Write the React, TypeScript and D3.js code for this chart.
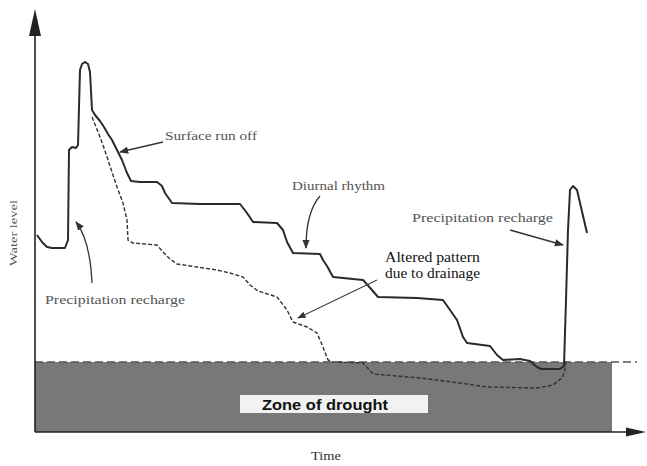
import React from 'react';
import * as d3 from 'd3';

const width = 647;
const height = 466;

// natural water level (solid line)
const levelTime = [0.4, 1.4, 2.4, 3.4, 6.0, 6.6, 6.8, 7.4, 8.2, 8.6, 9.0, 9.4, 10.0, 10.6, 11.0, 11.4, 12.0, 13.0, 13.8, 14.6, 15.4, 16.4, 17.4, 18.4, 19.2, 21.0, 24.4, 25.4, 26.0, 27.4, 33.0, 41.0, 42.4, 43.6, 48.4, 49.6, 50.4, 51.6, 57.0, 57.6, 58.4, 59.6, 65.6, 67.4, 68.6, 76.4, 81.6, 84.4, 85.6, 86.4, 91.0, 92.4, 93.6, 97.0, 99.0, 100.4, 101.2, 105.0, 105.8, 106.2, 106.6, 107.0, 107.6, 108.4, 110.4];
const levelValue = [19.7, 19.0, 18.5, 18.4, 18.4, 19.2, 28.2, 28.5, 28.4, 28.7, 36.2, 36.8, 37.0, 36.8, 36.0, 32.2, 31.7, 31.1, 30.5, 29.8, 29.2, 28.2, 27.2, 25.9, 25.1, 25.0, 25.0, 24.6, 23.9, 22.9, 22.8, 22.8, 21.9, 21.0, 20.9, 20.2, 19.0, 17.9, 17.8, 17.2, 16.6, 15.5, 15.2, 14.2, 13.5, 13.4, 13.2, 11.2, 9.5, 8.9, 8.6, 7.7, 7.2, 7.3, 7.1, 6.5, 6.3, 6.3, 6.6, 13.2, 20.2, 24.2, 24.6, 24.2, 19.9];

// level after drainage (dashed line)
const drainTime = [11.4, 12.2, 13.0, 13.8, 14.6, 15.4, 16.4, 17.6, 18.4, 18.6, 19.6, 24.4, 25.6, 27.0, 28.4, 32.4, 36.4, 39.0, 41.6, 43.0, 44.6, 48.4, 50.4, 51.6, 54.4, 56.4, 57.6, 58.6, 59.6, 65.6, 67.6, 77.0, 85.0, 90.4, 100.4, 103.6, 105.4, 106.0, 106.2];
const drainValue = [31.5, 30.5, 29.5, 28.4, 27.2, 26.0, 24.5, 22.9, 21.2, 19.2, 18.9, 18.7, 18.0, 17.3, 16.8, 16.5, 16.2, 15.9, 15.5, 14.7, 14.1, 13.5, 12.2, 11.0, 10.5, 9.9, 8.5, 7.2, 7.0, 6.9, 5.8, 5.4, 4.9, 4.5, 4.4, 4.7, 5.4, 6.2, 7.2];

const droughtLevel = 7;
const droughtEnd = 115.4;
const thresholdEnd = 120.4;

export default function App() {
  const x = d3.scaleLinear().domain([0, 120]).range([35, 635]);
  const y = d3.scaleLinear().domain([0, 42]).range([432, 12]);

  const level = levelTime.map((t, i) => [t, levelValue[i]] as [number, number]);
  const drained = drainTime.map((t, i) => [t, drainValue[i]] as [number, number]);
  const line = d3.line<[number, number]>().x(d => x(d[0])).y(d => y(d[1]));

  const quad = (a: number[], c: number[], b: number[]) =>
    `M${x(a[0])},${y(a[1])} Q${x(c[0])},${y(c[1])} ${x(b[0])},${y(b[1])}`;
  const seg = (a: number[], b: number[]) => `M${x(a[0])},${y(a[1])} L${x(b[0])},${y(b[1])}`;

  const serif = "'Liberation Serif', 'DejaVu Serif', serif";
  const grey = '#555';
  const x0 = x(0), y0 = y(0);

  return (
    <svg width={width} height={height} style={{ position: 'absolute', left: 0, top: 0, background: '#fff' }}>
      <defs>
        <marker id="head" viewBox="0 0 10 10" refX="9" refY="5" markerWidth="7" markerHeight="7" orient="auto">
          <path d="M0,1 L10,5 L0,9 Z" fill="#333" />
        </marker>
      </defs>

      {/* drought zone */}
      <rect x={x0} y={y(droughtLevel)} width={x(droughtEnd) - x0} height={y0 - y(droughtLevel)} fill="#787878" />
      <line x1={x0} x2={x(thresholdEnd)} y1={y(droughtLevel)} y2={y(droughtLevel)} stroke="#555" strokeWidth={1.5} strokeDasharray="8 4" />
      <rect x={240} y={395} width={188} height={18} fill="#f2f2f2" />
      <text x={262} y={409.5} fontFamily="'Liberation Sans', Arial, sans-serif" fontWeight="bold" fontSize={14.5}
        fill="#111" textLength={126} lengthAdjust="spacingAndGlyphs">
        Zone of drought
      </text>

      {/* axes */}
      <line x1={x0} y1={y0} x2={x0} y2={30} stroke="#222" strokeWidth={1.6} />
      <path d={`M${x0},9 L${x0 + 6},36 L${x0 - 6},36 Z`} fill="#222" />
      <line x1={x0} y1={y0} x2={630} y2={y0} stroke="#222" strokeWidth={1.6} />
      <path d={`M646,${y0} L626,${y0 - 4.5} L626,${y0 + 4.5} Z`} fill="#222" />
      <text transform={`translate(17,233) rotate(-90)`} textAnchor="middle" fontFamily={serif} fontSize={11} fill={grey}
        textLength={66} lengthAdjust="spacingAndGlyphs">Water level</text>
      <text x={311} y={460} fontFamily={serif} fontSize={12} fill="#333" textLength={30} lengthAdjust="spacingAndGlyphs">Time</text>

      {/* curves */}
      <path d={line(drained) || ''} fill="none" stroke="#333" strokeWidth={1.4} strokeDasharray="4 2" />
      <path d={line(level) || ''} fill="none" stroke="#2a2a2a" strokeWidth={2} strokeLinejoin="round" />

      {/* annotations */}
      <text x={165} y={140} fontFamily={serif} fontSize={13} fill={grey} textLength={92} lengthAdjust="spacingAndGlyphs">Surface run off</text>
      <path d={seg([25.6, 29.0], [17.0, 28.0])} stroke="#333" strokeWidth={1.3} fill="none" markerEnd="url(#head)" />

      <text x={292} y={190} fontFamily={serif} fontSize={13} fill={grey} textLength={93} lengthAdjust="spacingAndGlyphs">Diurnal rhythm</text>
      <path d={quad([57.0, 23.6], [54.2, 22.0], [54.2, 18.4])} stroke="#333" strokeWidth={1.3} fill="none" markerEnd="url(#head)" />

      <text x={412} y={222} fontFamily={serif} fontSize={13.5} fill={grey} textLength={141} lengthAdjust="spacingAndGlyphs">Precipitation recharge</text>
      <path d={seg([95.0, 20.2], [105.6, 18.7])} stroke="#333" strokeWidth={1.3} fill="none" markerEnd="url(#head)" />

      <text x={45} y={304} fontFamily={serif} fontSize={13.5} fill={grey} textLength={140} lengthAdjust="spacingAndGlyphs">Precipitation recharge</text>
      <path d={quad([11.4, 14.9], [11.0, 19.2], [8.2, 21.0])} stroke="#333" strokeWidth={1.3} fill="none" markerEnd="url(#head)" />

      <text x={385} y={262} fontFamily={serif} fontSize={14} fill="#111" textLength={95} lengthAdjust="spacingAndGlyphs">Altered pattern</text>
      <text x={385} y={278} fontFamily={serif} fontSize={14} fill="#111" textLength={95} lengthAdjust="spacingAndGlyphs">due to drainage</text>
      <path d={seg([68.4, 15.2], [52.6, 11.4])} stroke="#444" strokeWidth={1.2} fill="none" markerEnd="url(#head)" />
    </svg>
  );
}
